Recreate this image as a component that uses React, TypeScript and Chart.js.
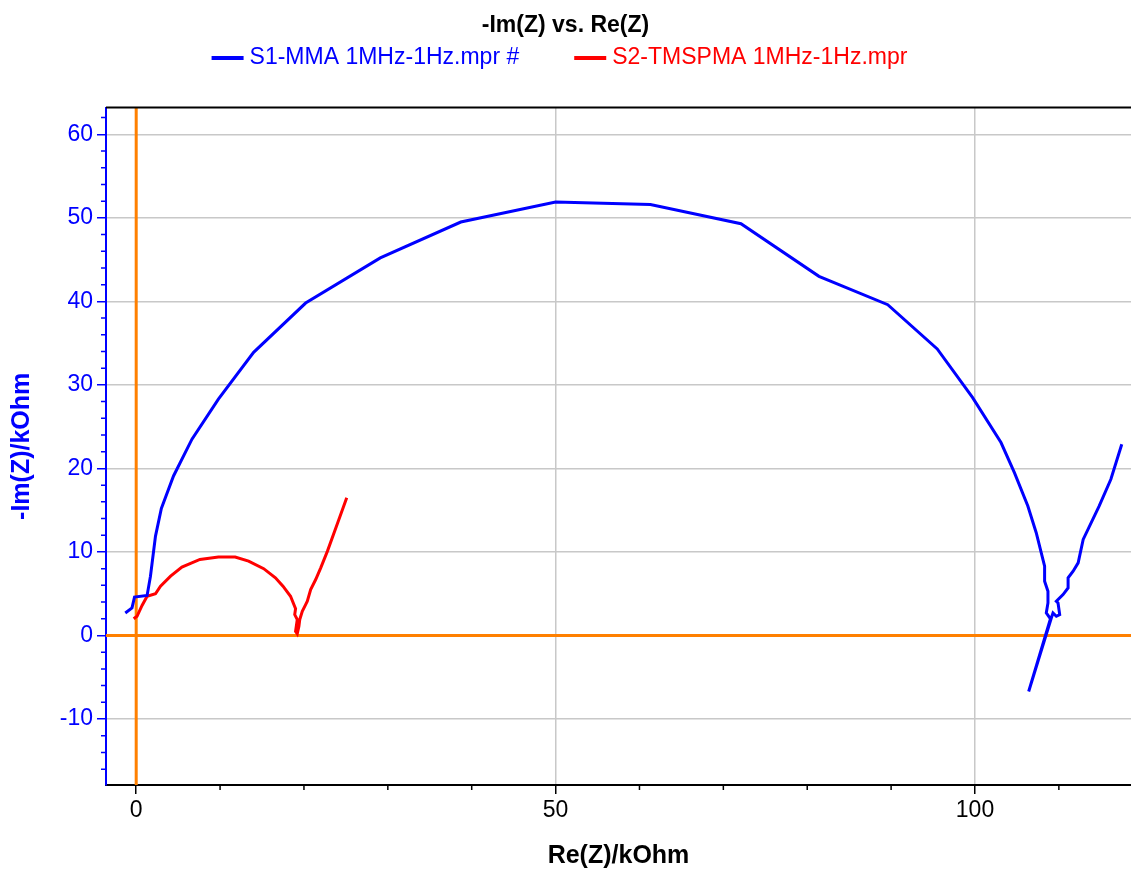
import React, { useEffect, useRef } from "react";
import { Chart, registerables } from "chart.js";

Chart.register(...registerables);

const FONT = "'Liberation Sans', Arial, sans-serif";

const chartTitle = "-Im(Z) vs. Re(Z)";
const xTitle = "Re(Z)/kOhm";
const yTitle = "-Im(Z)/kOhm";
const seriesNames = ["S1-MMA 1MHz-1Hz.mpr #", "S2-TMSPMA 1MHz-1Hz.mpr"];
const seriesColors = ["#0000ff", "#ff0000"];

// S1-MMA: Re(Z) and -Im(Z) in kOhm
const blueRe = [
  -1.3, -0.5, -0.2, 1.3, 1.7, 2.3, 3.0, 4.45, 6.65, 9.8, 14.0, 20.2, 29.1, 38.7, 50.0,
  61.3, 72.1, 81.4, 89.6, 95.5, 99.7, 103.1, 104.7, 106.3, 107.3, 108.3, 108.3, 108.7,
  108.7, 108.5, 109.0, 106.4, 109.1, 109.3, 109.7, 110.1, 109.9, 109.7, 110.5, 111.1,
  111.1, 111.7, 112.3, 112.9, 114.8, 116.2, 117.5,
];
const blueIm = [
  2.7, 3.3, 4.6, 4.8, 7.1, 11.9, 15.2, 19.1, 23.5, 28.3, 33.9, 39.8, 45.2, 49.5, 51.9,
  51.6, 49.3, 43.0, 39.6, 34.3, 28.5, 23.1, 19.5, 15.5, 12.3, 8.3, 6.5, 5.3,
  3.9, 2.7, 2.0, -6.7, 2.1, 2.7, 2.3, 2.5, 3.9, 4.1, 4.9, 5.7,
  6.9, 7.7, 8.7, 11.5, 15.5, 18.7, 22.9,
];

// S2-TMSPMA: Re(Z) and -Im(Z) in kOhm
const redRe = [
  -0.3, 0.1, 0.7, 1.3, 2.3, 2.9, 4.1, 5.45, 7.6, 9.8, 11.8, 13.4, 15.2, 16.6, 17.5, 18.4,
  19.0, 18.9, 19.2, 19.0, 19.2, 19.4, 19.5, 19.8, 20.2, 20.4, 20.8, 21.4, 22.0, 22.8,
  24.1, 25.1,
];
const redIm = [
  2.0, 2.3, 3.6, 4.7, 5.0, 5.9, 7.1, 8.2, 9.1, 9.4, 9.4, 8.9, 8.0, 6.9, 5.9, 4.7,
  3.2, 2.5, 1.9, 0.5, 0.2, 1.1, 1.9, 2.9, 3.7, 4.1, 5.5, 6.7, 8.1, 10.1,
  13.7, 16.5,
];

const xTickValues = [0, 50, 100];
const yTickValues = [-10, 0, 10, 20, 30, 40, 50, 60];
const xMinorTicks = [10, 20, 30, 40, 60, 70, 80, 90, 110];
const yMinorTicks = [
  -16, -14, -12, -8, -6, -4, -2, 2, 4, 6, 8, 12, 14, 16, 18, 22, 24, 26, 28, 32, 34, 36,
  38, 42, 44, 46, 48, 52, 54, 56, 58, 62,
];
const xMin = -3.6;
const xMax = 118.6;
const yMin = -17.9;
const yMax = 63.2;

const decorPlugin = {
  id: "decor",
  beforeDatasetsDraw(chart: any) {
    const { ctx, chartArea: a, scales } = chart;
    const x0 = scales.x.getPixelForValue(0);
    const y0 = scales.y.getPixelForValue(0);
    ctx.save();
    ctx.strokeStyle = "#ff8000";
    ctx.lineWidth = 3;
    ctx.beginPath();
    ctx.moveTo(x0, a.top);
    ctx.lineTo(x0, a.bottom);
    ctx.moveTo(a.left, y0);
    ctx.lineTo(a.right, y0);
    ctx.stroke();
    ctx.restore();
  },
  afterDraw(chart: any) {
    const { ctx, chartArea: a, scales } = chart;
    ctx.save();
    // top frame
    ctx.strokeStyle = "#000";
    ctx.lineWidth = 2;
    ctx.beginPath();
    ctx.moveTo(a.left, a.top);
    ctx.lineTo(a.right, a.top);
    ctx.stroke();
    // minor ticks
    ctx.lineWidth = 1.5;
    ctx.strokeStyle = "#0000ff";
    ctx.beginPath();
    for (const v of yMinorTicks) {
      const py = scales.y.getPixelForValue(v);
      ctx.moveTo(a.left - 5, py);
      ctx.lineTo(a.left, py);
    }
    ctx.stroke();
    ctx.strokeStyle = "#000";
    ctx.beginPath();
    for (const v of xMinorTicks) {
      const px = scales.x.getPixelForValue(v);
      ctx.moveTo(px, a.bottom);
      ctx.lineTo(px, a.bottom + 5);
    }
    ctx.stroke();
    // legend
    ctx.font = `23px ${FONT}`;
    ctx.textBaseline = "middle";
    ctx.textAlign = "left";
    const lineW = 32;
    const gap = 6;
    const sep = 55;
    const widths = seriesNames.map((n) => ctx.measureText(n).width);
    const total = widths.reduce((s, w) => s + w + lineW + gap, 0) + sep * (seriesNames.length - 1);
    let cx = chart.width / 2 - 6 - total / 2;
    const cy = 58;
    seriesNames.forEach((n, i) => {
      ctx.fillStyle = seriesColors[i];
      ctx.fillRect(cx, cy - 2, lineW, 4);
      ctx.fillText(n, cx + lineW + gap, cy);
      cx += lineW + gap + widths[i] + sep;
    });
    ctx.restore();
  },
};

export default function App() {
  const ref = useRef<HTMLCanvasElement>(null);
  useEffect(() => {
    const canvas = ref.current!;
    const chart = new Chart(canvas, {
      type: "scatter",
      data: {
        datasets: [
          {
            label: seriesNames[0],
            data: blueRe.map((x, i) => ({ x, y: blueIm[i] })),
            borderColor: seriesColors[0],
            backgroundColor: seriesColors[0],
            borderWidth: 3,
            showLine: true,
            pointRadius: 0,
            tension: 0,
          },
          {
            label: seriesNames[1],
            data: redRe.map((x, i) => ({ x, y: redIm[i] })),
            borderColor: seriesColors[1],
            backgroundColor: seriesColors[1],
            borderWidth: 3,
            showLine: true,
            pointRadius: 0,
            tension: 0,
          },
        ],
      },
      options: {
        animation: false,
        responsive: false,
        maintainAspectRatio: false,
        layout: { padding: 0 },
        plugins: {
          legend: { display: false },
          tooltip: { enabled: false },
          title: {
            display: true,
            text: chartTitle,
            color: "#000",
            font: { family: FONT, size: 23, weight: "bold", lineHeight: 1.2 },
            padding: { top: 12, bottom: 68 },
          },
        },
        scales: {
          x: {
            type: "linear",
            position: "bottom",
            min: xMin,
            max: xMax,
            afterBuildTicks: (s: any) => {
              s.ticks = xTickValues.map((v) => ({ value: v }));
            },
            afterFit: (s: any) => {
              s.height = 85;
            },
            grid: { color: "#c8c8c8", lineWidth: 1.5, tickColor: "#000", tickWidth: 1.5, tickLength: 9 },
            border: { display: true, color: "#000", width: 2 },
            ticks: { color: "#000", font: { family: FONT, size: 23 }, padding: 3, maxRotation: 0, autoSkip: false },
            title: {
              display: true,
              text: xTitle,
              color: "#000",
              font: { family: FONT, size: 25, weight: "bold", lineHeight: 1 },
              padding: { top: 0, bottom: 1 },
            },
          },
          y: {
            type: "linear",
            position: "left",
            min: yMin,
            max: yMax,
            afterBuildTicks: (s: any) => {
              s.ticks = yTickValues.map((v) => ({ value: v }));
            },
            afterFit: (s: any) => {
              s.width = 106;
            },
            grid: { color: "#c8c8c8", lineWidth: 1.5, tickColor: "#0000ff", tickWidth: 1.5, tickLength: 9 },
            border: { display: true, color: "#0000ff", width: 2 },
            ticks: { color: "#0000ff", font: { family: FONT, size: 23 }, padding: 4, autoSkip: false },
            title: {
              display: true,
              text: yTitle,
              color: "#0000ff",
              font: { family: FONT, size: 25, weight: "bold", lineHeight: 1 },
              padding: { top: 10, bottom: 0 },
            },
          },
        },
      } as any,
      plugins: [decorPlugin],
    });
    return () => chart.destroy();
  }, []);
  return (
    <div style={{ position: "fixed", left: 0, top: 0, width: 1131, height: 870, background: "#fff" }}>
      <canvas ref={ref} width={1131} height={870} style={{ display: "block", width: 1131, height: 870 }} />
    </div>
  );
}
